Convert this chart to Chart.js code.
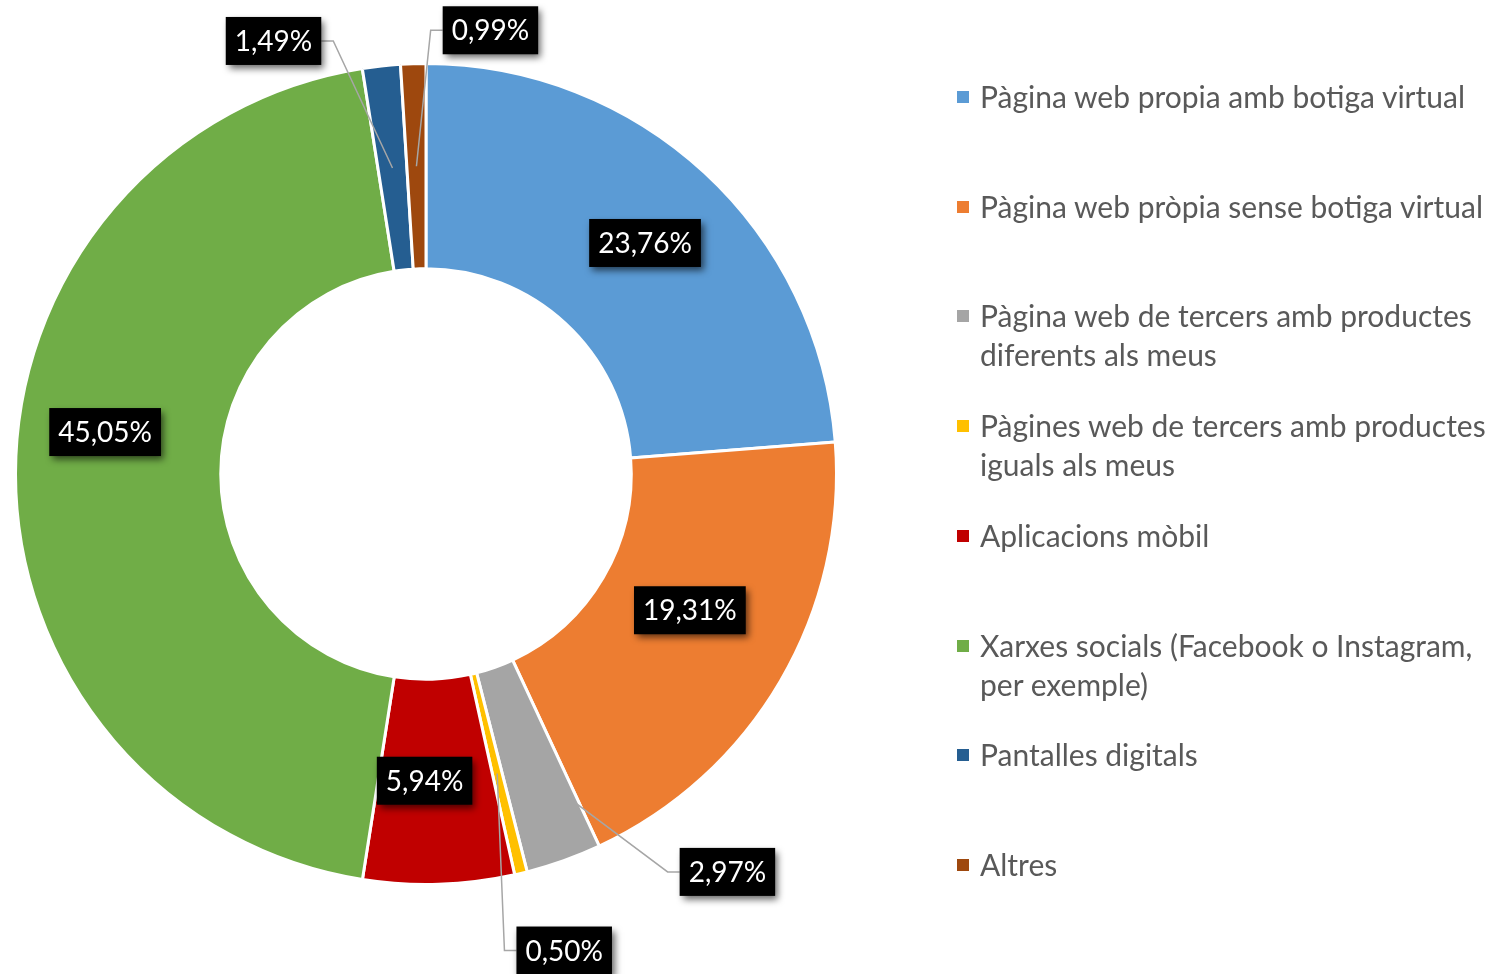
<!DOCTYPE html>
<html>
<head>
<meta charset="utf-8">
<script src="https://cdn.jsdelivr.net/npm/chart.js@4.4.1/dist/chart.umd.min.js"></script>
<style>
  body { margin: 0; background: #fff; width: 1499px; height: 974px; overflow: hidden; position: relative; font-family: Lato, "Open Sans", sans-serif; }
  #myChart { position: absolute; left: 0; top: 0; }
  .legend { position: absolute; left: 955px; top: 77px; }
  .item { position: absolute; left: 0; white-space: nowrap; color: #595959; font-size: 30px; line-height: 39px; }
  .item i { position: absolute; left: 2px; top: 14px; width: 12px; height: 12px; }
  .item span { position: absolute; left: 25px; top: 0; }
</style>
</head>
<body>
<canvas id="myChart" width="1499" height="974"></canvas>
<div class="legend" id="legend"></div>
<script>
// categories (multi-line labels as in the legend)
const categories = [
  ['Pàgina web propia amb botiga virtual'],
  ['Pàgina web pròpia sense botiga virtual'],
  ['Pàgina web de tercers amb productes', 'diferents als meus'],
  ['Pàgines web de tercers amb productes', 'iguals als meus'],
  ['Aplicacions mòbil'],
  ['Xarxes socials (Facebook o Instagram,', 'per exemple)'],
  ['Pantalles digitals'],
  ['Altres']
];
const shares = [23.76, 19.31, 2.97, 0.50, 5.94, 45.05, 1.49, 0.99];
const colors = ['#5B9BD5', '#ED7D31', '#A5A5A5', '#FFC000', '#C00000', '#70AD47', '#255E91', '#9E480E'];

// where each label sits: anchor on the slice (fraction along angle / ring) + box offset
const labelSpots = [
  { at: 0.5, r: 0.5, dx: 10, dy: -5 },
  { at: 0.5, r: 0.5, dx: -2, dy: -19 },
  { at: 0.05, r: 0.76, dx: 152, dy: 69, leader: true },
  { at: 0.5, r: 0.5, dx: 67, dy: 177, leader: true },
  { at: 0.5, r: 0.5, dx: -11, dy: -1 },
  { at: 0.5, r: 0.5, dx: -13, dy: -42 },
  { at: 0.5, r: 0.5, dx: -119, dy: -127, leader: true },
  { at: 0.5, r: 0.5, dx: 74, dy: -136, leader: true }
];

function fmt(v) {
  return v.toFixed(2).replace('.', ',') + '%';
}

const boxLabels = {
  id: 'boxLabels',
  afterDatasetsDraw(chart) {
    const ctx = chart.ctx;
    const meta = chart.getDatasetMeta(0);
    ctx.save();
    ctx.font = '28px Lato, "Open Sans", sans-serif';
    meta.data.forEach((arc, i) => {
      const p = arc.getProps(['x', 'y', 'startAngle', 'endAngle', 'innerRadius', 'outerRadius'], true);
      const s = labelSpots[i];
      const ang = p.startAngle + (p.endAngle - p.startAngle) * s.at;
      const rad = p.innerRadius + (p.outerRadius - p.innerRadius) * s.r;
      const ax = p.x + Math.cos(ang) * rad;
      const ay = p.y + Math.sin(ang) * rad;
      const cx = ax + s.dx, cy = ay + s.dy;
      const txt = fmt(shares[i]);
      const w = ctx.measureText(txt).width + 18, h = 48;
      const left = cx - w / 2, top = cy - h / 2;

      if (s.leader) {
        const edge = s.dx > 0 ? left : left + w;
        const elbow = s.dx > 0 ? edge - 12 : edge + 12;
        ctx.strokeStyle = '#A6A6A6';
        ctx.lineWidth = 1.5;
        ctx.beginPath();
        ctx.moveTo(ax, ay);
        ctx.lineTo(elbow, cy);
        ctx.lineTo(edge, cy);
        ctx.stroke();
      }

      ctx.save();
      ctx.shadowColor = 'rgba(0,0,0,0.6)';
      ctx.shadowBlur = 7;
      ctx.shadowOffsetX = 3;
      ctx.shadowOffsetY = 4;
      ctx.fillStyle = '#000';
      ctx.fillRect(left, top, w, h);
      ctx.restore();

      ctx.fillStyle = '#fff';
      ctx.textAlign = 'center';
      ctx.textBaseline = 'middle';
      ctx.fillText(txt, cx, cy + 1);
    });
    ctx.restore();
  }
};

try {
  const ctx = document.getElementById('myChart');
  new Chart(ctx, {
    type: 'doughnut',
    data: {
      labels: categories,
      datasets: [{
        data: shares,
        backgroundColor: colors,
        borderColor: '#ffffff',
        borderWidth: 3
      }]
    },
    options: {
      responsive: false,
      animation: false,
      devicePixelRatio: 1,
      cutout: '50%',
      layout: { padding: { left: 14, top: 62, right: 661, bottom: 88 } },
      plugins: {
        legend: { display: false },
        tooltip: { enabled: false }
      }
    },
    plugins: [boxLabels]
  });
} catch (error) {
  console.log(error);
}

// legend on the right
const legendDiv = document.getElementById('legend');
categories.forEach((lines, i) => {
  let item = document.createElement('div');
  item.className = 'item';
  item.style.top = (i * 109.7) + 'px';
  let sw = document.createElement('i');
  sw.style.background = colors[i];
  let sp = document.createElement('span');
  sp.innerHTML = lines.join('<br>');
  item.appendChild(sw);
  item.appendChild(sp);
  legendDiv.appendChild(item);
});
</script>
</body>
</html>
